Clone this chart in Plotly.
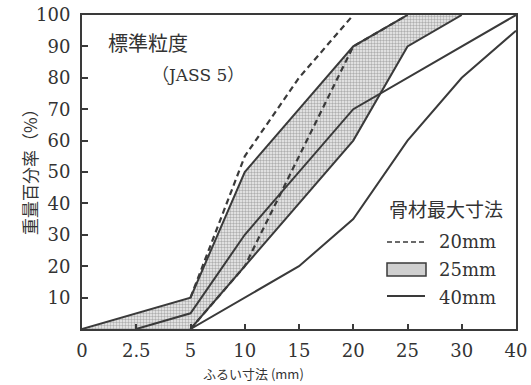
import plotly.graph_objects as go

# sieve sizes (category axis, equally spaced)
sieve = ["0", "2.5", "5", "10", "15", "20", "25", "30", "40"]
y_ticks = [10, 20, 30, 40, 50, 60, 70, 80, 90, 100]

# 20 mm (dashed)
mm20_upper_x = ["5", "10", "15", "20"]
mm20_upper_y = [10, 55, 80, 100]
mm20_lower_x = ["5", "10", "20", "25"]
mm20_lower_y = [0, 20, 90, 100]

# 25 mm (shaded band)
mm25_upper_x = ["0", "5", "10", "20", "25", "30"]
mm25_upper_y = [0, 10, 50, 90, 100, 100]
mm25_lower_x = ["0", "2.5", "5", "10", "15", "20", "25", "30"]
mm25_lower_y = [0, 0, 0, 20, 40, 60, 90, 100]

# 40 mm (solid)
mm40_upper_x = ["2.5", "5", "10", "15", "20", "40"]
mm40_upper_y = [0, 5, 30, 50, 70, 100]
mm40_lower_x = ["5", "10", "15", "20", "25", "30", "40"]
mm40_lower_y = [0, 10, 20, 35, 60, 80, 95]

LC = "#3a3a3a"
W, H = 531, 385
L, R, T, B = 82, 516, 15, 329


def px(x):
    return (x - L) / (R - L)


def py(y):
    return (B - y) / (B - T)


fig = go.Figure()

# shaded 25 mm band
fig.add_trace(go.Scatter(
    x=mm25_upper_x + mm25_lower_x[::-1],
    y=mm25_upper_y + mm25_lower_y[::-1],
    fill="toself", mode="lines", line=dict(width=0),
    fillcolor="rgba(0,0,0,0)",
    fillpattern=dict(shape=".", fgcolor="#6e6e6e", bgcolor="#f0f0f0", size=3, solidity=0.5),
    hoverinfo="skip", showlegend=False))

# 25 mm boundaries
fig.add_trace(go.Scatter(x=mm25_upper_x[:-1], y=mm25_upper_y[:-1], mode="lines",
                         line=dict(color=LC, width=2), showlegend=False))
fig.add_trace(go.Scatter(x=mm25_lower_x[2:], y=mm25_lower_y[2:], mode="lines",
                         line=dict(color=LC, width=2), showlegend=False))

# 40 mm
fig.add_trace(go.Scatter(x=mm40_upper_x, y=mm40_upper_y, mode="lines",
                         line=dict(color=LC, width=2), showlegend=False))
fig.add_trace(go.Scatter(x=mm40_lower_x, y=mm40_lower_y, mode="lines",
                         line=dict(color=LC, width=2), showlegend=False))

# 20 mm dashed
fig.add_trace(go.Scatter(x=mm20_upper_x, y=mm20_upper_y, mode="lines",
                         line=dict(color=LC, width=2.2, dash="6px,4px"), showlegend=False))
fig.add_trace(go.Scatter(x=mm20_lower_x, y=mm20_lower_y, mode="lines",
                         line=dict(color=LC, width=2.2, dash="6px,4px"), showlegend=False))

serif = "DejaVu Serif, Noto Sans CJK JP"
cjk = "Noto Sans CJK JP"

fig.update_xaxes(
    type="category", categoryorder="array", categoryarray=sieve,
    range=[0, len(sieve) - 1], automargin=False,
    tickvals=sieve, ticktext=sieve,
    ticks="inside", ticklen=5, tickwidth=1.5, tickcolor=LC,
    showline=True, mirror=True, linecolor=LC, linewidth=2,
    showgrid=False, zeroline=False,
    tickfont=dict(family=serif, size=18, color="#333"),
    ticklabelstandoff=4,
)
fig.update_yaxes(
    range=[0, 100], tickvals=y_ticks, automargin=False,
    ticks="inside", ticklen=6, tickwidth=1.5, tickcolor=LC,
    showline=True, mirror=True, linecolor=LC, linewidth=2,
    showgrid=False, zeroline=False,
    tickfont=dict(family=serif, size=18, color="#333"),
    ticklabelstandoff=6,
)


def note(x, y, text, font, size, xanchor="center", angle=0):
    return dict(x=px(x), y=py(y), xref="paper", yref="paper", text=text,
                xanchor=xanchor, yanchor="middle", textangle=angle, showarrow=False,
                font=dict(family=font, size=size, color="#333"))


ann = [
    note(29, 168, "重量百分率（%）", cjk, 17, angle=-90),
    note(148, 43, "標準粒度", cjk, 20),
    note(198, 75, "（JASS 5）", serif, 17),
    note(446, 208, "骨材最大寸法", cjk, 19),
    note(437, 242, "20mm", serif, 18, xanchor="left"),
    note(437, 269, "25mm", serif, 18, xanchor="left"),
    note(437, 297, "40mm", serif, 18, xanchor="left"),
    note(253, 373, "ふるい寸法 (mm)", cjk, 13),
]

shapes = [
    dict(type="line", xref="paper", yref="paper", x0=px(387), x1=px(425), y0=py(242), y1=py(242),
         line=dict(color=LC, width=1.5, dash="5px,3px")),
    dict(type="rect", xref="paper", yref="paper", x0=px(387), x1=px(426), y0=py(276), y1=py(263),
         line=dict(color=LC, width=1.5), fillcolor="#d0d0d0"),
    dict(type="line", xref="paper", yref="paper", x0=px(387), x1=px(425), y0=py(296), y1=py(296),
         line=dict(color=LC, width=1.8)),
]

fig.update_layout(
    width=W, height=H,
    margin=dict(l=L, r=W - R, t=T, b=H - B),
    paper_bgcolor="white", plot_bgcolor="white",
    showlegend=False,
    annotations=ann, shapes=shapes,
)

fig.write_html("out.html")
